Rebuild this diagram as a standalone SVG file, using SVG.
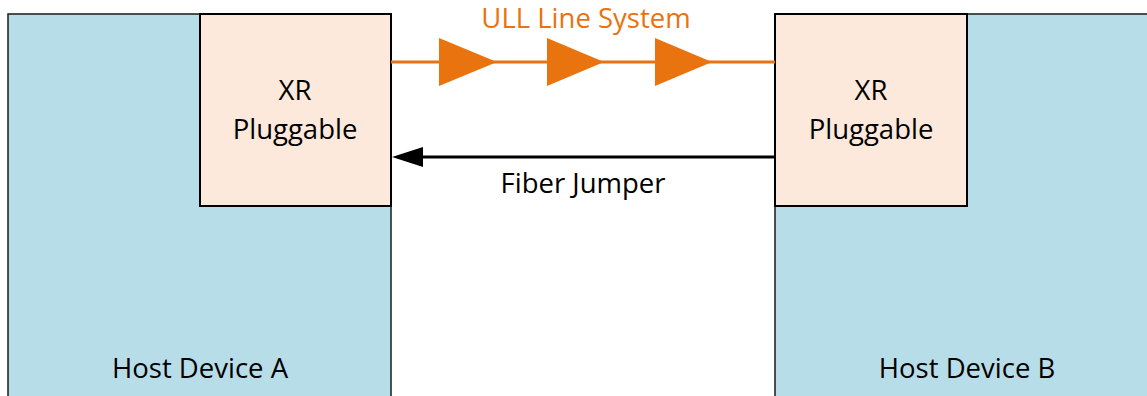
<svg xmlns="http://www.w3.org/2000/svg" width="1147" height="396" viewBox="0 0 1147 396">
<defs>
<style>
.host{fill:#B7DDE8;stroke:#1a1a1a;stroke-width:1.5}
.plug{fill:#FCE9DB;stroke:#000;stroke-width:2}
.t{font-family:"Open Sans","Liberation Sans",sans-serif;font-size:27.5px;fill:#000;text-anchor:middle}
.amp{fill:#E9730F}
</style>
</defs>
<rect width="1147" height="396" fill="#fff"/>
<g id="hostA">
<rect class="host" x="8" y="14" width="383" height="400"/>
<text class="t" x="200" y="378">Host Device A</text>
</g>
<g id="hostB">
<rect class="host" x="775" y="14" width="400" height="400"/>
<text class="t" x="967" y="378">Host Device B</text>
</g>
<g id="plugA">
<rect class="plug" x="200" y="14" width="191" height="192"/>
<text class="t" x="295" y="100">XR</text>
<text class="t" x="295" y="139">Pluggable</text>
</g>
<g id="plugB">
<rect class="plug" x="775" y="14" width="192" height="192"/>
<text class="t" x="871" y="100">XR</text>
<text class="t" x="871" y="139">Pluggable</text>
</g>
<g id="connectors">
<line x1="391" y1="62" x2="775" y2="62" stroke="#E9730F" stroke-width="3"/>
<polygon class="amp" points="439,38 497,62 439,86"/>
<polygon class="amp" points="547,38 604,62 547,86"/>
<polygon class="amp" points="655,38 712,62 655,86"/>
<text class="t" x="586" y="28" style="fill:#E9730F">ULL Line System</text>
<line x1="775" y1="157" x2="423" y2="157" stroke="#000" stroke-width="3"/>
<polygon points="392,157 423,147 423,167" fill="#000"/>
<text class="t" x="583" y="193">Fiber Jumper</text>
</g>
</svg>
